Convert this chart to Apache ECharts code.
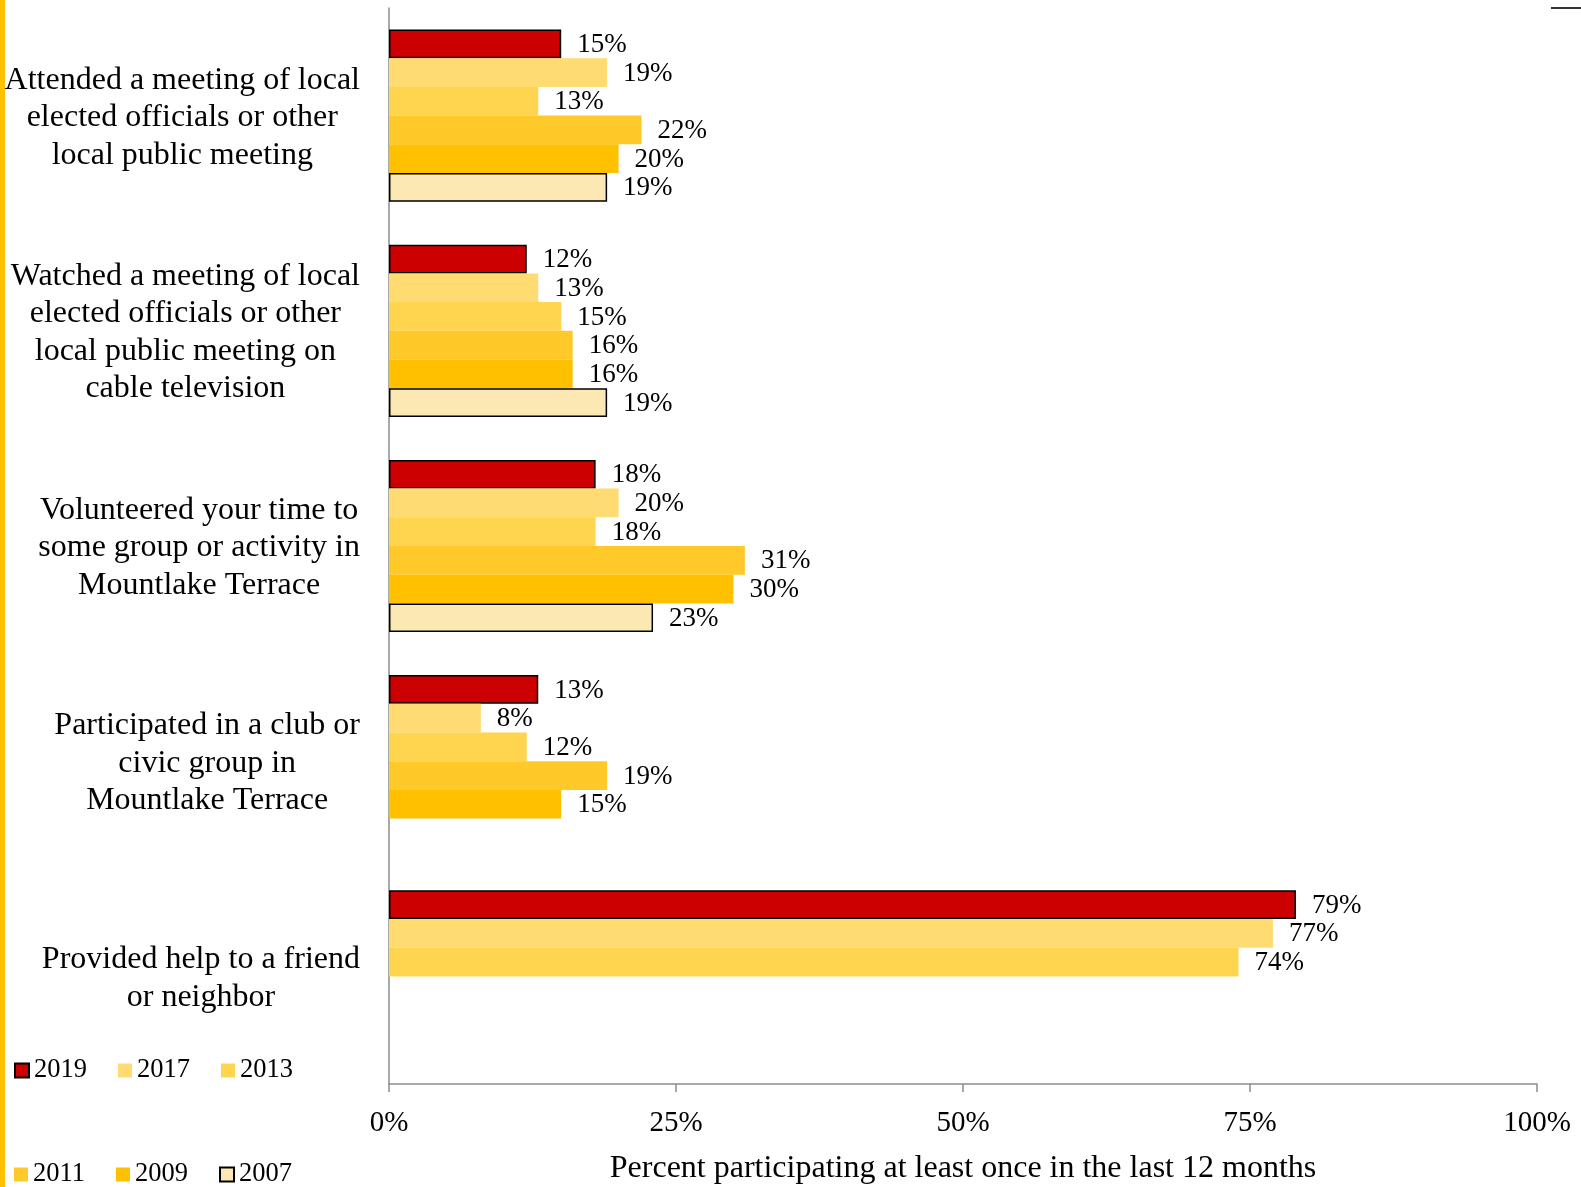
<!DOCTYPE html>
<html><head><meta charset="utf-8">
<script src="https://cdn.jsdelivr.net/npm/echarts@6/dist/echarts.min.js"></script>
<style>html,body{margin:0;padding:0;background:#fff}#c{width:1581px;height:1187px}</style>
</head><body><div id="c"></div>
<script>
var categories = [
  "Attended a meeting of local\nelected officials or other\nlocal public meeting",
  "Watched a meeting of local\nelected officials or other\nlocal public meeting on\ncable television",
  "Volunteered your time to\nsome group or activity in\nMountlake Terrace",
  "Participated in a club or\ncivic group in\nMountlake Terrace",
  "Provided help to a friend\nor neighbor"
];
var years = ["2019", "2017", "2013", "2011", "2009", "2007"];
var y2019 = [15, 12, 18, 13, 79];
var y2017 = [19, 13, 20, 8, 77];
var y2013 = [13, 15, 18, 12, 74];
var y2011 = [22, 16, 31, 19, null];
var y2009 = [20, 16, 30, 15, null];
var y2007 = [19, 19, 23, null, null];
var xTicks = [0, 25, 50, 75, 100];
var xTitle = "Percent participating at least once in the last 12 months";

var FONT = "'Liberation Serif','Times New Roman',serif";
var colors = ["#CC0000", "#FFDB71", "#FFD54F", "#FFC929", "#FFC000", "#FCE8B2"];
var borders = [true, false, false, false, false, true];
var values = [y2019, y2017, y2013, y2011, y2009, y2007];

var series = years.map(function (y, i) {
  return {
    name: y, type: "bar", data: values[i],
    barGap: "0%", barCategoryGap: "20%",
    itemStyle: { color: colors[i], borderColor: borders[i] ? "#000" : colors[i], borderWidth: borders[i] ? 1.5 : 0 },
    label: { show: true, position: "right", distance: 16, offset: [0, 1], formatter: "{c}%", color: "#000", fontFamily: FONT, fontSize: 27 }
  };
});

var chart = echarts.init(document.getElementById("c"), null, { renderer: "canvas" });
chart.setOption({
  animation: false,
  backgroundColor: "#fff",
  grid: { left: 389, right: 44, top: 8, bottom: 103, containLabel: false, outerBoundsMode: "none" },
  xAxis: {
    type: "value", min: 0, max: 100, interval: 25,
    axisLine: { show: true, lineStyle: { color: "#8c8c8c", width: 1.5 } },
    axisTick: { show: true, length: 8, lineStyle: { color: "#8c8c8c", width: 1.5 } },
    splitLine: { show: false },
    axisLabel: { margin: 25, color: "#000", fontFamily: FONT, fontSize: 29, formatter: function (v) { return xTicks.indexOf(v) >= 0 ? v + "%" : ""; } },
    name: xTitle, nameLocation: "middle", nameGap: 69,
    nameTextStyle: { color: "#000", fontFamily: FONT, fontSize: 32 }
  },
  yAxis: {
    type: "category", data: categories, inverse: true,
    axisLine: { show: true, lineStyle: { color: "#8c8c8c", width: 1.5 } },
    axisTick: { show: false },
    axisLabel: {
      margin: 29, align: "right", padding: [4, 0, 0, 0],
      formatter: function (v) { return v.split("\n").map(function (l) { return "{c|" + l + "}"; }).join("\n"); },
      rich: { c: { align: "center", color: "#000", fontFamily: FONT, fontSize: 32, lineHeight: 37.5 } }
    }
  },
  legend: [
    { data: ["2019", "2017", "2013"], left: 9, top: 1052, orient: "horizontal", itemWidth: 14, itemHeight: 14, itemGap: 31,
      icon: "rect", textStyle: { color: "#000", fontFamily: FONT, fontSize: 26.5 } },
    { data: ["2011", "2009", "2007"], left: 9, top: 1156, orient: "horizontal", itemWidth: 14, itemHeight: 14, itemGap: 31,
      icon: "rect", textStyle: { color: "#000", fontFamily: FONT, fontSize: 26.5 } }
  ],
  graphic: [
    { type: "rect", left: 0, top: 0, shape: { width: 5, height: 1187 }, style: { fill: "#FFC000" } },
    { type: "line", shape: { x1: 1551, y1: 8, x2: 1581, y2: 8 }, style: { stroke: "#333", lineWidth: 2 } }
  ],
  series: series
});
</script></body></html>
